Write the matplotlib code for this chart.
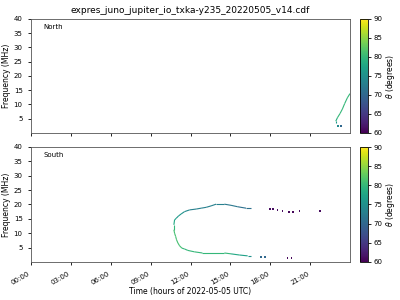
import numpy as np
import matplotlib
matplotlib.use("Agg")
import matplotlib.pyplot as plt
from matplotlib.collections import LineCollection

# North hemisphere source (hours, MHz, theta)
north_t = [22.93, 22.93, 23.05, 23.25, 23.43, 23.6, 23.8, 24.0]
north_f = [3.3, 4.1, 5.3, 6.8, 8.4, 10.3, 12.3, 13.8]
north_th = [76, 79, 80, 80, 80, 80, 80, 80]
north_tail_t = [23.1, 23.3]
north_tail_f = [2.5, 2.3]
north_tail_th = [74, 70]

# South hemisphere source: main arc
south_t = [16.55, 16.18, 15.55, 15.05, 14.55, 13.93, 13.55, 13.18, 12.8, 12.43,
           11.93, 11.55, 11.3, 11.1, 10.93, 10.8, 10.75, 10.75, 10.8, 10.88,
           10.95, 11.05, 11.18, 11.35, 11.55, 11.8, 12.3, 12.9, 14.55, 15.05,
           15.68, 16.3, 16.55]
south_f = [18.7, 18.7, 19.2, 19.7, 20.1, 20.1, 19.5, 19.0, 18.7, 18.4,
           18.1, 17.5, 16.7, 16.0, 15.2, 14.6, 12.9, 11.2, 10.0, 8.9,
           7.7, 6.6, 5.6, 4.8, 4.5, 4.0, 3.5, 3.1, 3.1, 2.8,
           2.4, 2.1, 2.1]
south_th = [71, 71, 72, 72, 73, 73, 73, 73, 73, 73,
            74, 75, 76, 76, 77, 78, 80, 81, 81, 81,
            81, 81, 81, 80, 80, 80, 80, 80, 80, 78,
            77, 75, 75]
# South hemisphere: scattered points
south_pt_t = [17.3, 17.6, 18.0, 18.2, 18.55, 18.93, 19.4, 19.7, 20.2, 21.75, 19.3, 19.6]
south_pt_f = [1.7, 1.7, 18.3, 18.3, 18.0, 17.6, 17.3, 17.3, 17.6, 17.6, 1.4, 1.4]
south_pt_th = [70, 70, 61, 61, 61, 61, 60.5, 60.5, 61, 61, 60.5, 60.5]

xticks = np.arange(0, 24, 3)
xticklabels = ["%02d:00" % h for h in xticks]

fig = plt.figure(figsize=(4, 3), dpi=100)
ax1 = fig.add_axes([0.0775, 0.557, 0.7975, 0.38])
ax2 = fig.add_axes([0.0775, 0.127, 0.7975, 0.383])
cax1 = fig.add_axes([0.9, 0.557, 0.02, 0.38])
cax2 = fig.add_axes([0.9, 0.127, 0.02, 0.383])

norm = plt.Normalize(60, 90)
cmap = plt.get_cmap("viridis")


def draw_curve(ax, t, f, th):
    pts = np.column_stack([t, f])
    segs = np.stack([pts[:-1], pts[1:]], axis=1)
    lc = LineCollection(segs, cmap=cmap, norm=norm, linewidth=0.8)
    lc.set_array(np.array(th[:-1], dtype=float))
    ax.add_collection(lc)


draw_curve(ax1, north_t, north_f, north_th)
ax1.scatter(north_tail_t, north_tail_f, c=north_tail_th, cmap=cmap, norm=norm,
            marker="s", s=1.5, linewidths=0)
draw_curve(ax2, south_t, south_f, south_th)
ax2.scatter(south_pt_t, south_pt_f, c=south_pt_th, cmap=cmap, norm=norm,
            marker="s", s=1.5, linewidths=0)

for ax, name in [(ax1, "North"), (ax2, "South")]:
    ax.set_xlim(0, 24)
    ax.set_ylim(0, 40)
    ax.set_yticks([5, 10, 15, 20, 25, 30, 35, 40])
    ax.set_xticks(xticks)
    ax.tick_params(labelsize=5, length=2.5, width=0.6)
    ax.set_ylabel("Frequency (MHz)", fontsize=5.5, labelpad=2)
    ax.text(0.04, 0.91, name, transform=ax.transAxes, fontsize=5)
    for s in ax.spines.values():
        s.set_linewidth(0.6)
        s.set_color("#555555")

ax1.set_xticklabels([])
ax2.set_xticklabels(xticklabels, rotation=30, ha="right")
ax2.set_xlabel("Time (hours of 2022-05-05 UTC)", fontsize=5.5, labelpad=1)
ax1.set_title("expres_juno_jupiter_io_txka-y235_20220505_v14.cdf", fontsize=6.5, pad=4)

sm = plt.cm.ScalarMappable(norm=norm, cmap=cmap)
for cax in (cax1, cax2):
    cb = fig.colorbar(sm, cax=cax)
    cb.set_ticks([60, 65, 70, 75, 80, 85, 90])
    cb.ax.tick_params(labelsize=5, length=2.5, width=0.6, pad=1.5)
    cb.set_label(r"$\theta$ (degrees)", fontsize=5.5, labelpad=1)
    cb.outline.set_linewidth(0.6)

fig.savefig("out.png", dpi=100)
